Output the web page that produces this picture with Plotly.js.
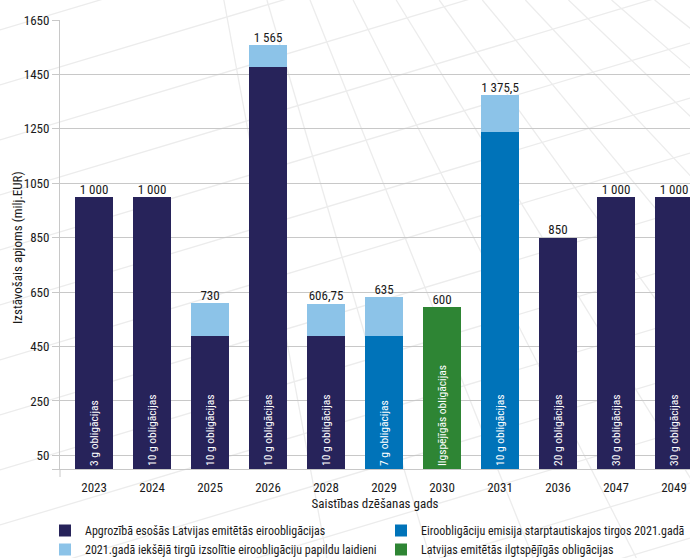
<!DOCTYPE html>
<html>
<head>
<meta charset="utf-8">
<script src="https://cdn.plot.ly/plotly-3.0.1.min.js"></script>
<style>html,body{margin:0;padding:0;background:#fff;}#chart{width:690px;height:558px;}</style>
</head>
<body>
<div id="chart"></div>
<script>
// ---- data ----
const categories = ['2023','2024','2025','2026','2028','2029','2030','2031','2036','2047','2049'];
const seriesNames = [
  'Apgrozībā esošās Latvijas emitētās eiroobligācijas',
  'Eiroobligāciju emisija starptautiskajos tirgos 2021.gadā',
  '2021.gadā iekšējā tirgū izsolītie eiroobligāciju papildu laidieni',
  'Latvijas emitētās ilgtspējīgās obligācijas'
];
const existingBonds   = [1000, 1000, 488, 1479, 488, null, null, null, 850, 1000, 1000];
const intlIssue2021   = [null, null, null, null, null, 488, null, 1237, null, null, null];
const domesticTaps    = [null, null, 121, 78, 120, 143, null, 137, null, null, null];
const greenBonds      = [null, null, null, null, null, null, 595, null, null, null, null];
const totalLabels     = ['1 000','1 000','730','1 565','606,75','635','600','1 375,5','850','1 000','1 000'];
const maturityLabels  = ['3 g obligācijas','10 g obligācijas','10 g obligācijas','10 g obligācijas','10 g obligācijas',
                         '7 g obligācijas','Ilgspējīgās obligācijas','10 g obligācijas','20 g obligācijas','30 g obligācijas','30 g obligācijas'];
const yTickVals = [0, 50, 250, 450, 650, 850, 1050, 1250, 1450, 1650];
const yTickText = ['', '50', '250', '450', '650', '850', '1050', '1250', '1450', '1650'];
const xTitle = 'Saistības dzēšanas gads';
const yTitle = 'Izstāvošais apjoms (milj.EUR)';

// ---- styling ----
const FONT = '"Roboto Condensed", "Liberation Sans Narrow", "DejaVu Sans Condensed", sans-serif';
const TXT = '#1a1a1a';
const colors = ['#27235a', '#0073b9', '#8cc3e8', '#2e8534'];
const BW = 0.656;

function innerText(arr) { return arr.map((v, i) => (v != null ? maturityLabels[i] : '')); }

function barTrace(idx, arr, withText, legendId) {
  const t = {
    type: 'bar', name: seriesNames[idx], x: categories, y: arr,
    width: BW, marker: { color: colors[idx], line: { width: 0 } },
    legend: legendId, hoverinfo: 'x+y+name'
  };
  if (withText) {
    t.text = innerText(arr);
    t.textposition = 'inside';
    t.insidetextanchor = 'start';
    t.textangle = -90;
    t.constraintext = 'none';
    t.textfont = { family: FONT, size: 11.5, color: '#ffffff' };
  } else {
    t.textposition = 'none';
  }
  return t;
}

const totals = categories.map((c, i) =>
  [existingBonds, intlIssue2021, domesticTaps, greenBonds].reduce((s, a) => s + (a[i] || 0), 0));

const traces = [
  barTrace(0, existingBonds, true, 'legend'),
  barTrace(1, intlIssue2021, true, 'legend2'),
  barTrace(2, domesticTaps, false, 'legend'),
  barTrace(3, greenBonds, true, 'legend2'),
  {
    type: 'scatter', mode: 'text', x: categories, y: totals, text: totalLabels,
    textposition: 'top center', cliponaxis: false, showlegend: false, hoverinfo: 'skip',
    textfont: { family: FONT, size: 13, color: TXT }
  }
];

// ---- faint decorative background pattern (pixel -> paper) ----
const L = 60, R = 690, T = 20, B = 469;
function px(X) { return (X - L) / (R - L); }
function py(Y) { return (B - Y) / (B - T); }
const shapes = [];
function deco(x0, y0, x1, y1) {
  shapes.push({ type: 'line', xref: 'paper', yref: 'paper', layer: 'below',
    x0: px(x0), y0: py(y0), x1: px(x1), y1: py(y1), line: { color: '#ececec', width: 1.3 } });
}
for (let y = 30; y <= 800; y += 55) deco(0, y, 690, y - 0.3 * 690);
for (let k = 0; k < 11; k++) {
  const cx = 150, cy = -400;
  const xb = 270 + k * 70; // where the ray crosses y = 250
  const sx = (xb - cx) / (250 - cy);
  deco(cx + sx * (0 - cy), 0, cx + sx * (558 - cy), 558);
}
// axis extension below the corner
shapes.push({ type: 'line', xref: 'paper', yref: 'paper', x0: 0, x1: 0, y0: 0, y1: py(477),
  line: { color: '#c8c8c8', width: 1 } });

const legendBase = {
  orientation: 'v', xanchor: 'left', y: py(516), yanchor: 'top',
  font: { family: FONT, size: 12, color: TXT }, traceorder: 'normal',
  bgcolor: 'rgba(0,0,0,0)', tracegroupgap: 0, itemclick: false, itemdoubleclick: false
};

const layout = {
  width: 690, height: 558,
  margin: { l: L, r: 690 - R, t: T, b: 558 - B, pad: 0, autoexpand: false },
  paper_bgcolor: '#ffffff', plot_bgcolor: 'rgba(0,0,0,0)',
  font: { family: FONT, size: 13, color: TXT },
  barmode: 'stack', showlegend: true, bargap: 0.3,
  xaxis: {
    type: 'category', range: [-0.587, 10.276], fixedrange: true,
    showline: true, linecolor: '#c8c8c8', linewidth: 1,
    ticks: '', showgrid: false, zeroline: false,
    tickfont: { family: FONT, size: 13, color: TXT },
    ticklabelstandoff: 6,
    title: { text: xTitle, font: { family: FONT, size: 13, color: TXT }, standoff: 5 }
  },
  yaxis: {
    range: [0, 1650], tickvals: yTickVals, ticktext: yTickText,
    showgrid: true, gridcolor: '#c8c8c8', gridwidth: 1,
    showline: true, linecolor: '#c8c8c8', linewidth: 1,
    ticks: 'outside', ticklen: 7, tickcolor: '#c8c8c8', tickwidth: 1,
    zeroline: false,
    tickfont: { family: FONT, size: 13, color: TXT }
  },
  legend: Object.assign({}, legendBase, { x: px(45) }),
  legend2: Object.assign({}, legendBase, { x: px(381) }),
  annotations: [{
    xref: 'paper', yref: 'paper', x: px(17), y: py(248), text: yTitle, textangle: -90,
    showarrow: false, xanchor: 'center', yanchor: 'middle',
    font: { family: FONT, size: 13, color: TXT }
  }],
  shapes: shapes
};

Plotly.newPlot('chart', traces, layout, { displayModeBar: false, staticPlot: true });
</script>
</body>
</html>
